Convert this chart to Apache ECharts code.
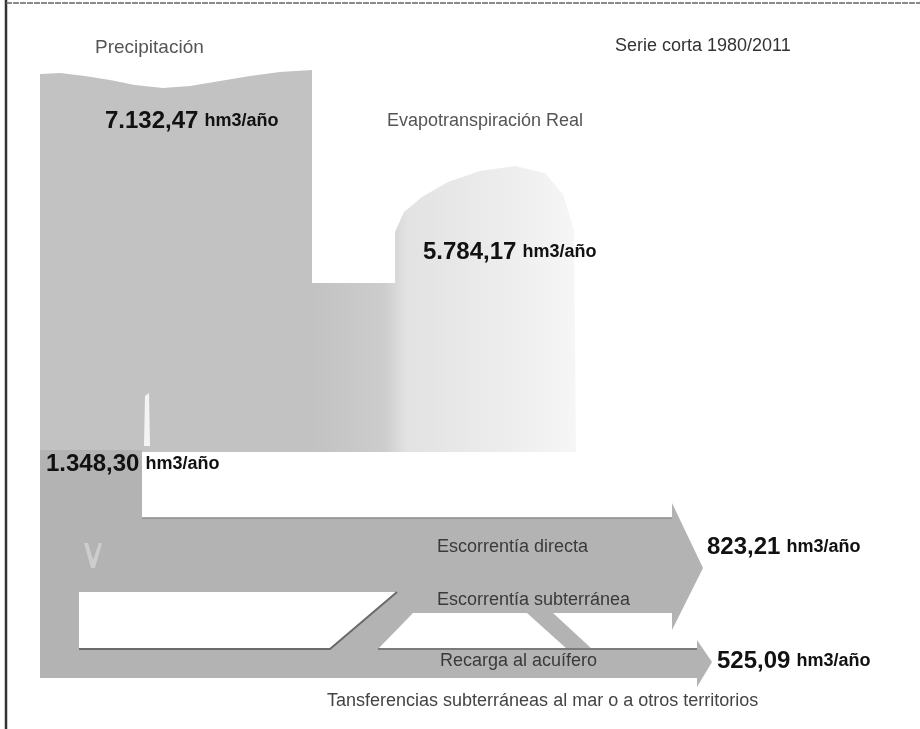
<!DOCTYPE html>
<html>
<head>
<meta charset="utf-8">
<script src="https://cdn.jsdelivr.net/npm/echarts@6/dist/echarts.min.js"></script>
<style>
html,body{margin:0;padding:0;background:#fff;}
#chart{width:920px;height:729px;}
</style>
</head>
<body>
<div id="chart"></div>
<script>
// ---------------- DATA ----------------
const flowNames = ['Precipitación', 'Evapotranspiración Real', 'Infiltración', 'Escorrentía directa', 'Recarga al acuífero'];
const flowValues = [7132.47, 5784.17, 1348.30, 823.21, 525.09];
const flowUnit = 'hm3/año';
const captionTexts = ['Precipitación', 'Serie corta 1980/2011', 'Evapotranspiración Real',
  'Escorrentía directa', 'Escorrentía subterránea', 'Recarga al acuífero',
  'Tansferencias subterráneas al mar o a otros territorios'];

// ---------------- LAYOUT (diagram geometry, pixel space of the drawing) ----------------
const W = 920, H = 729;
const DENSE = '#c2c2c2', DARK = '#b3b3b3';
const shapes = [
  { name: 'precip', fill: DENSE, pts: [[40,74],[60,73],[85,76],[110,80],[135,85],[163,88],[190,86],[220,81],[250,76],[280,72],[312,70],[312,452],[40,452]] },
  { name: 'et', fill: 'etgrad', pts: [[311,283],[395,283],[395,232],[404,212],[422,197],[448,182],[480,171],[515,166],[545,173],[563,194],[574,230],[576,452],[311,452]] },
  { name: 'lower', fill: DARK, pts: [[40,450],[142,450],[142,518],[672,518],[672,503],[703,568],[672,630],[672,649],[697,649],[697,640],[712,662],[697,687],[697,678],[40,678]] },
  { name: 'w1', fill: '#ffffff', pts: [[79,592],[397,592],[330,649],[79,649]] },
  { name: 'w2', fill: '#ffffff', pts: [[378,649],[413,613],[527,613],[567,649]] },
  { name: 'w3', fill: '#ffffff', pts: [[553,613],[672,613],[672,649],[592,649]] },
  { name: 'notch', fill: '#f4f4f4', pts: [[144,446],[145,396],[149,393],[150,446]] },
  { name: 'mark', fill: '#cdcdcd', pts: [[84,543],[88,543],[93,560],[99,543],[102,543],[95,568],[91,568]] }
];
const edges = [
  { color: '#6a6a6a', width: 2, pts: [[79,649],[330,649],[397,592]] },
  { color: '#7a7a7a', width: 2, pts: [[378,649],[697,649]] },
  { color: '#8a8a8a', width: 1.5, pts: [[142,518],[672,518]] }
];
// label anchors: [x, y] (left, middle)
const captionPos = [[95,48],[615,46],[387,121],[437,547],[437,600],[440,661],[327,701]];
const captionStyle = [
  {size:19,color:'#555'},{size:18,color:'#333'},{size:18,color:'#555'},
  {size:18,color:'#3a3a3a'},{size:18,color:'#3a3a3a'},{size:18,color:'#3a3a3a'},{size:18,color:'#444'}];
const valuePos = [[105,121],[423,252],[46,464],[707,547],[717,661]];

function fmtEs(v){
  const parts = v.toFixed(2).split('.');
  const intPart = parts[0].replace(/\B(?=(\d{3})+(?!\d))/g, '.');
  return intPart + ',' + parts[1];
}

const chart = echarts.init(document.getElementById('chart'), null, {renderer:'canvas'});

const etGrad = new echarts.graphic.LinearGradient(0, 0, 1, 0, [
  {offset: 0, color: '#c2c2c2'},
  {offset: 0.28, color: '#cdcdcd'},
  {offset: 0.36, color: '#e2e2e2'},
  {offset: 0.7, color: '#ececec'},
  {offset: 1, color: '#f6f6f6'}
]);

const shapeData = shapes.map((s, i) => [i]);
const edgeData = edges.map((e, i) => [i]);
const captionData = captionTexts.map((t, i) => [captionPos[i][0], captionPos[i][1], i]);
const valueData = flowValues.map((v, i) => [valuePos[i][0], valuePos[i][1], i]);

const option = {
  animation: false,
  backgroundColor: '#ffffff',
  grid: {left: 0, right: 0, top: 0, bottom: 0},
  xAxis: {type: 'value', min: 0, max: W, show: false},
  yAxis: {type: 'value', min: 0, max: H, inverse: true, show: false},
  graphic: [
    {type: 'line', shape: {x1: 6, y1: 0, x2: 6, y2: 729}, style: {stroke: '#333', lineWidth: 2.5}},
    {type: 'line', shape: {x1: 6, y1: 3, x2: 920, y2: 3}, style: {stroke: '#666', lineWidth: 1.5, lineDash: [6, 1]}}
  ],
  series: [
    {
      type: 'custom', name: 'shapes', data: shapeData, z: 1,
      renderItem: function (params, api) {
        const s = shapes[api.value(0)];
        const pts = s.pts.map(p => api.coord(p));
        return {type: 'polygon', shape: {points: pts},
          style: {fill: s.fill === 'etgrad' ? etGrad : s.fill, stroke: null}};
      }
    },
    {
      type: 'custom', name: 'edges', data: edgeData, z: 2,
      renderItem: function (params, api) {
        const e = edges[api.value(0)];
        return {type: 'polyline', shape: {points: e.pts.map(p => api.coord(p))},
          style: {stroke: e.color, lineWidth: e.width, fill: null}};
      }
    },
    {
      type: 'custom', name: 'captions', data: captionData, z: 3,
      renderItem: function (params, api) {
        const i = api.value(2);
        const c = api.coord([api.value(0), api.value(1)]);
        const st = captionStyle[i];
        return {type: 'text', x: c[0], y: c[1],
          style: {text: captionTexts[i], fill: st.color,
            font: 'normal ' + st.size + 'px "Liberation Sans", Arial, sans-serif',
            textAlign: 'left', textVerticalAlign: 'middle'}};
      }
    },
    {
      type: 'custom', name: 'values', data: valueData, z: 4,
      renderItem: function (params, api) {
        const i = api.value(2);
        const c = api.coord([api.value(0), api.value(1)]);
        return {type: 'text', x: c[0], y: c[1],
          style: {text: '{v|' + fmtEs(flowValues[i]) + '}{u|' + flowUnit + '}',
            textAlign: 'left', textVerticalAlign: 'middle',
            rich: {
              v: {font: 'bold 24px "Liberation Sans", Arial, sans-serif', fill: '#111', color: '#111'},
              u: {font: 'bold 18px "Liberation Sans", Arial, sans-serif', fill: '#111', color: '#111', padding: [0, 0, 0, 6]}
            }}};
      }
    }
  ]
};
chart.setOption(option);
</script>
</body>
</html>
